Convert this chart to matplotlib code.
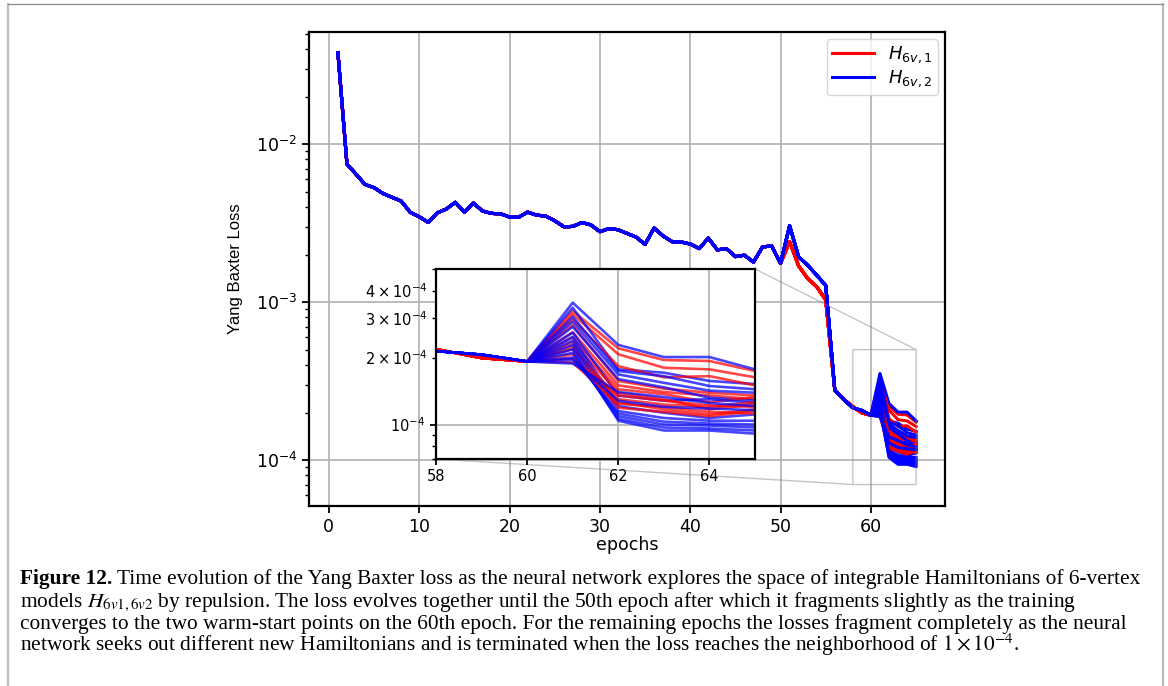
import matplotlib
matplotlib.use("Agg")
import matplotlib.pyplot as plt
from matplotlib.lines import Line2D
from itertools import zip_longest

# ---------------- data ----------------
epochs_common = list(range(1, 51))
loss_common = [3.79e-2, 7.47e-3, 6.45e-3, 5.55e-3, 5.30e-3, 4.86e-3, 4.60e-3, 4.36e-3, 3.70e-3, 3.47e-3,
               3.19e-3, 3.67e-3, 3.88e-3, 4.28e-3, 3.70e-3, 4.23e-3, 3.77e-3, 3.64e-3, 3.62e-3, 3.45e-3,
               3.44e-3, 3.71e-3, 3.55e-3, 3.50e-3, 3.27e-3, 3.00e-3, 3.01e-3, 3.19e-3, 3.08e-3, 2.79e-3,
               2.92e-3, 2.87e-3, 2.72e-3, 2.58e-3, 2.32e-3, 2.94e-3, 2.62e-3, 2.41e-3, 2.40e-3, 2.33e-3,
               2.18e-3, 2.54e-3, 2.14e-3, 2.18e-3, 1.94e-3, 1.98e-3, 1.79e-3, 2.23e-3, 2.27e-3, 1.76e-3]

epochs_warm = list(range(51, 61))
loss_warm_h1 = [2.41e-3, 1.69e-3, 1.41e-3, 1.25e-3, 1.03e-3, 2.77e-4, 2.42e-4, 2.18e-4, 1.99e-4, 1.92e-4]
loss_warm_h2 = [3.04e-3, 1.93e-3, 1.71e-3, 1.48e-3, 1.27e-3, 2.77e-4, 2.42e-4, 2.14e-4, 2.06e-4, 1.92e-4]

epochs_frag = [61, 62, 63, 64, 65]
frag_h1 = [
    [3.24e-4, 2.20e-4, 1.95e-4, 1.93e-4, 1.74e-4],
    [3.13e-4, 2.07e-4, 1.80e-4, 1.77e-4, 1.63e-4],
    [2.97e-4, 1.83e-4, 1.63e-4, 1.65e-4, 1.50e-4],
    [2.80e-4, 1.57e-4, 1.45e-4, 1.39e-4, 1.35e-4],
    [2.60e-4, 1.50e-4, 1.40e-4, 1.35e-4, 1.30e-4],
    [2.46e-4, 1.44e-4, 1.37e-4, 1.26e-4, 1.33e-4],
    [2.34e-4, 1.39e-4, 1.30e-4, 1.17e-4, 1.23e-4],
    [2.25e-4, 1.30e-4, 1.23e-4, 1.20e-4, 1.26e-4],
    [2.18e-4, 1.26e-4, 1.17e-4, 1.11e-4, 1.17e-4],
    [2.07e-4, 1.19e-4, 1.14e-4, 1.09e-4, 1.15e-4],
    [1.98e-4, 1.35e-4, 1.28e-4, 1.22e-4, 1.20e-4],
    [1.90e-4, 1.24e-4, 1.20e-4, 1.14e-4, 1.12e-4],
]
frag_h2 = [
    [3.53e-4, 2.28e-4, 2.01e-4, 2.01e-4, 1.77e-4],
    [3.35e-4, 1.77e-4, 1.71e-4, 1.57e-4, 1.52e-4],
    [3.05e-4, 1.74e-4, 1.65e-4, 1.49e-4, 1.44e-4],
    [2.90e-4, 1.68e-4, 1.54e-4, 1.42e-4, 1.39e-4],
    [2.75e-4, 1.60e-4, 1.47e-4, 1.32e-4, 1.28e-4],
    [2.59e-4, 1.35e-4, 1.28e-4, 1.30e-4, 1.25e-4],
    [2.48e-4, 1.21e-4, 1.13e-4, 1.07e-4, 1.11e-4],
    [2.38e-4, 1.15e-4, 1.07e-4, 1.04e-4, 1.04e-4],
    [2.28e-4, 1.09e-4, 1.00e-4, 9.9e-5, 9.7e-5],
    [2.18e-4, 1.04e-4, 9.4e-5, 9.4e-5, 9.1e-5],
    [2.10e-4, 1.06e-4, 9.7e-5, 9.6e-5, 9.4e-5],
    [2.00e-4, 1.12e-4, 1.03e-4, 1.01e-4, 1.00e-4],
    [1.95e-4, 1.28e-4, 1.20e-4, 1.18e-4, 1.16e-4],
    [1.88e-4, 1.40e-4, 1.33e-4, 1.25e-4, 1.21e-4],
]

labels = [r"$H_{6v,1}$", r"$H_{6v,2}$"]
colors = ["red", "blue"]
xticks_main = [0, 10, 20, 30, 40, 50, 60]
xticks_inset = [58, 60, 62, 64]

caption_bold = "Figure 12."
caption_lines = [
    " Time evolution of the Yang Baxter loss as the neural network explores the space of integrable Hamiltonians of 6-vertex",
    r"models $H_{6v1,6v2}$ by repulsion. The loss evolves together until the 50th epoch after which it fragments slightly as the training",
    "converges to the two warm-start points on the 60th epoch. For the remaining epochs the losses fragment completely as the neural",
    r"network seeks out different new Hamiltonians and is terminated when the loss reaches the neighborhood of $1\times10^{-4}$.",
]

# ---------------- figure ----------------
W, H = 1168, 686
fig = plt.figure(figsize=(W / 100, H / 100), dpi=100)
fig.patch.set_facecolor("white")

ax = fig.add_axes([309 / W, 1 - 506 / H, 636 / W, 474 / H])
axins = ax.inset_axes([(436 - 309) / 636, (506 - 459) / 474, 319 / 636, 190 / 474])

x_full = epochs_common + epochs_warm + epochs_frag
handles = {}
for r1, r2 in zip_longest(frag_h1, frag_h2):
    for k, (run, warm) in enumerate([(r1, loss_warm_h1), (r2, loss_warm_h2)]):
        if run is None:
            continue
        y_full = loss_common + warm + run
        ln, = ax.plot(x_full, y_full, color=colors[k], lw=2.2, zorder=2)
        handles.setdefault(k, ln)
        axins.plot(x_full, y_full, color=colors[k], lw=1.9, alpha=0.72)

ax.set_yscale("log")
ax.set_xlim(-2.2, 68.2)
ax.set_ylim(5.12e-5, 5.12e-2)
ax.set_xticks(xticks_main)
ax.grid(True, which="major", color="#b0b0b0", lw=1.2)
ax.set_axisbelow(True)
ax.tick_params(axis="both", which="major", labelsize=12.5, width=1.3, length=5)
ax.tick_params(axis="both", which="minor", width=1.0, length=3)
for s in ax.spines.values():
    s.set_linewidth(1.6)
ax.set_xlabel("epochs", fontsize=12.5, labelpad=0)
ax.set_ylabel("Yang Baxter Loss", fontsize=12, family="Liberation Sans", labelpad=9)

leg = ax.legend([handles[0], handles[1]], labels, loc="upper right", fontsize=13,
                handlelength=2.3, labelspacing=0.2, borderpad=0.3, handletextpad=0.8,
                borderaxespad=0.4, framealpha=0.8, edgecolor="#cccccc")

axins.set_yscale("log")
axins.set_xlim(58, 65)
axins.set_ylim(7e-5, 5e-4)
axins.set_xticks(xticks_inset)
axins.grid(True, which="major", color="#b0b0b0", lw=1.2)
axins.set_axisbelow(True)
axins.tick_params(axis="both", which="both", labelsize=10.5)
axins.tick_params(axis="both", which="major", width=1.3, length=4)
axins.tick_params(axis="both", which="minor", width=1.0, length=3)
for s in axins.spines.values():
    s.set_linewidth(1.6)

ax.indicate_inset_zoom(axins, edgecolor="0.5", alpha=0.45, lw=1.0)

# ---------------- page frame ----------------
fig.add_artist(Line2D([7.5 / W, 7.5 / W], [0, 1 - 4 / H], transform=fig.transFigure,
                      color="#bdbdbd", lw=1.6))
fig.add_artist(Line2D([1163 / W, 1163 / W], [0, 1 - 4 / H], transform=fig.transFigure,
                      color="#bdbdbd", lw=1.6))
fig.add_artist(Line2D([7.5 / W, 1163 / W], [1 - 4 / H, 1 - 4 / H], transform=fig.transFigure,
                      color="#8a8a8a", lw=0.9))

# ---------------- caption ----------------
cap_font = dict(family="Liberation Serif", fontsize=15.4, color="black")
baselines = [584, 606.5, 629, 651.5]
x0 = 20 / W
tb = fig.text(x0, 1 - baselines[0] / H, caption_bold, fontweight="bold", va="baseline", **cap_font)
fig.canvas.draw()
bb = tb.get_window_extent(renderer=fig.canvas.get_renderer())
fig.text(bb.x1 / W, 1 - baselines[0] / H, caption_lines[0], va="baseline", math_fontfamily="stix", **cap_font)
for i in range(1, 4):
    fig.text(x0, 1 - baselines[i] / H, caption_lines[i], va="baseline", math_fontfamily="stix", **cap_font)

fig.savefig("out.png", dpi=100)
